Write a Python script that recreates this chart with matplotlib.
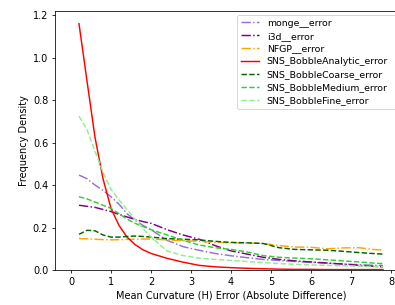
import matplotlib
matplotlib.use("Agg")
import matplotlib.pyplot as plt

OUT_PATH = "out.png"
DPI = 70

# x positions of the density estimates
x = [0.2, 0.4, 0.6, 0.8, 1.0, 1.2, 1.4, 1.6, 1.8, 2.0, 2.4, 2.8, 3.2,
     3.6, 4.0, 4.4, 4.8, 5.2, 5.6, 6.0, 6.4, 6.8, 7.2, 7.6, 7.8]

monge = [0.447, 0.43, 0.40, 0.375, 0.345, 0.31, 0.265, 0.235, 0.21, 0.19, 0.14, 0.11, 0.093,
         0.078, 0.067, 0.058, 0.05, 0.045, 0.04, 0.036, 0.032, 0.028, 0.025, 0.022, 0.021]
i3d = [0.305, 0.30, 0.295, 0.285, 0.275, 0.262, 0.25, 0.238, 0.228, 0.22, 0.19, 0.165, 0.145,
       0.115, 0.09, 0.075, 0.06, 0.05, 0.043, 0.038, 0.033, 0.028, 0.022, 0.017, 0.015]
nfgp = [0.148, 0.147, 0.145, 0.143, 0.142, 0.143, 0.144, 0.145, 0.146, 0.146, 0.142, 0.138, 0.135,
        0.131, 0.128, 0.127, 0.125, 0.115, 0.108, 0.107, 0.10, 0.104, 0.105, 0.096, 0.094]
analytic = [1.16, 0.89, 0.625, 0.43, 0.29, 0.21, 0.155, 0.12, 0.095, 0.078, 0.055, 0.037, 0.022,
            0.015, 0.011, 0.008, 0.006, 0.004, 0.003, 0.003, 0.002, 0.002, 0.002, 0.002, 0.002]
coarse = [0.168, 0.187, 0.185, 0.165, 0.155, 0.155, 0.158, 0.16, 0.158, 0.155, 0.148, 0.145, 0.142,
          0.135, 0.13, 0.128, 0.125, 0.105, 0.097, 0.095, 0.093, 0.088, 0.082, 0.077, 0.075]
medium = [0.345, 0.335, 0.32, 0.305, 0.29, 0.265, 0.24, 0.22, 0.205, 0.19, 0.165, 0.14, 0.118,
          0.105, 0.097, 0.085, 0.068, 0.06, 0.056, 0.053, 0.048, 0.043, 0.038, 0.032, 0.03]
fine = [0.725, 0.66, 0.56, 0.46, 0.38, 0.33, 0.285, 0.24, 0.195, 0.155, 0.09, 0.068, 0.056,
        0.05, 0.045, 0.04, 0.035, 0.03, 0.027, 0.024, 0.022, 0.02, 0.018, 0.016, 0.015]

series = [
    ("monge__error", monge, "mediumpurple", "-."),
    ("i3d__error", i3d, "purple", "-."),
    ("NFGP__error", nfgp, "orange", "-."),
    ("SNS_BobbleAnalytic_error", analytic, "red", "-"),
    ("SNS_BobbleCoarse_error", coarse, "darkgreen", "--"),
    ("SNS_BobbleMedium_error", medium, "limegreen", "--"),
    ("SNS_BobbleFine_error", fine, "lightgreen", "--"),
]

# low dpi so the default matplotlib sizes shrink to the reference scale
fig = plt.figure(figsize=(395 / DPI, 305 / DPI), dpi=DPI)
ax = fig.add_axes([55 / 395, 35 / 305, 352 / 395, 259 / 305])

for label, values, color, style in series:
    ax.plot(x, values, linestyle=style, color=color, label=label)

ax.set_xlim(-0.4, 8.4)
ax.set_ylim(0, 1.22)
ax.set_xlabel("Mean Curvature (H) Error (Absolute Difference)")
ax.set_ylabel("Frequency Density")
# the reference is cropped on the right: the legend frame runs past the edge,
# but its left edge is pinned so the texts still fit
ax.legend(loc="upper left", bbox_to_anchor=(237 / 395, 1 - 15 / 305, 166 / 395, 0),
          bbox_transform=fig.transFigure, borderaxespad=0, mode="expand",
          fontsize=9.6, labelspacing=0.42)

fig.savefig(OUT_PATH, dpi=DPI)
